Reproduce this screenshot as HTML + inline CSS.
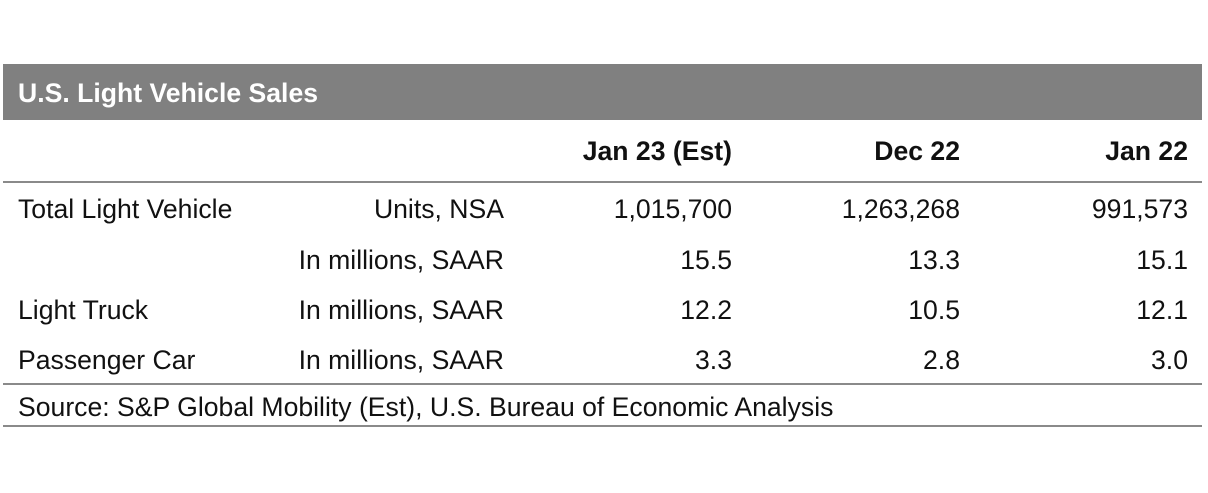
<!DOCTYPE html>
<html><head><meta charset="utf-8"><style>
body{margin:0;width:1208px;height:493px;background:#fff;position:relative;overflow:hidden;font-family:"Liberation Sans",Arial,sans-serif;color:#111}
.t{position:absolute;font-size:26.6px;line-height:30px;white-space:nowrap}
.r{text-align:right}
.b{font-weight:bold}
.line{position:absolute;left:3px;width:1199px;height:2px;background:#8a8a8a}
</style></head><body>
<div style="position:absolute;left:3px;top:64px;width:1199px;height:56px;background:#808080"></div>
<div class="t b" style="left:18px;top:78px;color:#fff">U.S. Light Vehicle Sales</div>
<div class="t b r" style="right:476px;top:136px">Jan 23 (Est)</div>
<div class="t b r" style="right:248px;top:136px">Dec 22</div>
<div class="t b r" style="right:20px;top:136px">Jan 22</div>
<div class="line" style="top:181px"></div>
<div id="rows"></div>
<div class="line" style="top:383px"></div>
<div class="t" style="left:18px;top:392px">Source: S&amp;P Global Mobility (Est), U.S. Bureau of Economic Analysis</div>
<div class="line" style="top:425px"></div>
<script>
const labels=["Total Light Vehicle","","Light Truck","Passenger Car"];
const units=["Units, NSA","In millions, SAAR","In millions, SAAR","In millions, SAAR"];
const jan23=["1,015,700","15.5","12.2","3.3"];
const dec22=["1,263,268","13.3","10.5","2.8"];
const jan22=["991,573","15.1","12.1","3.0"];
const tops=[194,245,295,345];
const c=document.getElementById('rows');
function cell(txt,style,cls,name){
  const d=document.createElement('div');
  d.className='t '+cls;
  d.setAttribute('style',style);
  d.textContent=txt;
  
  
  c.appendChild(d);
}
for(let i=0;i<labels.length;i++){
  const t='top:'+tops[i]+'px;';
  if(labels[i])cell(labels[i],t+'left:18px','','row-label');
  cell(units[i],t+'right:704px','r','row-unit');
  cell(jan23[i],t+'right:476px','r','value-jan23');
  cell(dec22[i],t+'right:248px','r','value-dec22');
  cell(jan22[i],t+'right:20px','r','value-jan22');
}
</script>
</body></html>
